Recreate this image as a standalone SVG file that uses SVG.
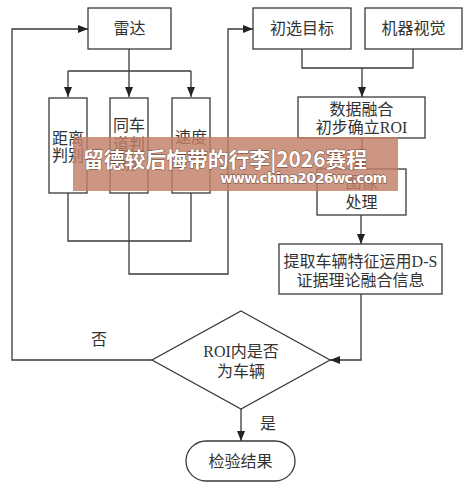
<svg xmlns="http://www.w3.org/2000/svg" width="470" height="488" viewBox="0 0 470 488">
<style>
.box{fill:#fff;stroke:#3a3a3a;stroke-width:1.3}
.ln{fill:none;stroke:#3a3a3a;stroke-width:1.3}
.t{font-family:"Liberation Serif","Noto Sans CJK SC",serif;font-size:16px;fill:#333;text-anchor:middle}
.wm{font-family:"Noto Sans CJK SC","Liberation Sans",sans-serif;font-weight:bold;fill:#fff;stroke:#6b3f30;stroke-width:0.8;paint-order:stroke}
</style>
<defs>
<marker id="ah" markerUnits="userSpaceOnUse" markerWidth="10" markerHeight="10" viewBox="0 0 10 10" refX="10" refY="5" orient="auto">
<path d="M0,1 L10,5 L0,9 Z" fill="#222"/>
</marker>
</defs>
<g id="connectors">
<path class="ln" d="M129,49 V97" marker-end="url(#ah)"/>
<path class="ln" d="M68,71 H191"/>
<path class="ln" d="M68,71 V97" marker-end="url(#ah)"/>
<path class="ln" d="M191,71 V97" marker-end="url(#ah)"/>
<path class="ln" d="M302,49 V68 H413 V49"/>
<path class="ln" d="M362,68 V97" marker-end="url(#ah)"/>
<path class="ln" d="M362,138 V169" marker-end="url(#ah)"/>
<path class="ln" d="M361,215 V244" marker-end="url(#ah)"/>
<path class="ln" d="M361,294 V360 H330" marker-end="url(#ah)"/>
<path class="ln" d="M152,360 H12 V29 H88" marker-end="url(#ah)"/>
<path class="ln" d="M68,193 V241 H191 V193"/>
<path class="ln" d="M129,193 V274 H228 V29 H253" marker-end="url(#ah)"/>
<path class="ln" d="M241,409 V441" marker-end="url(#ah)"/>
<text class="t" x="99" y="345">否</text>
<text class="t" x="268" y="429">是</text>
</g>
<g id="radar"><rect class="box" x="88" y="8" width="83" height="41"/><text class="t" x="129.5" y="34">雷达</text></g>
<g id="initial"><rect class="box" x="253" y="8" width="98" height="41"/><text class="t" x="302" y="34">初选目标</text></g>
<g id="vision"><rect class="box" x="365" y="8" width="97" height="41"/><text class="t" x="413.5" y="34">机器视觉</text></g>
<g id="distance"><rect class="box" x="49" y="98" width="38" height="95"/><text class="t" x="68" y="144">距离</text><text class="t" x="68" y="161">判别</text></g>
<g id="lane"><rect class="box" x="110" y="98" width="38" height="95"/><text class="t" x="129" y="131">同车</text><text class="t" x="129" y="150">道判</text><text class="t" x="129" y="169">别</text></g>
<g id="speed"><rect class="box" x="172" y="98" width="38" height="95"/><text class="t" x="191" y="143">速度</text></g>
<g id="fusion"><rect class="box" x="298" y="97" width="127" height="41"/><text class="t" x="361.5" y="115">数据融合</text><text class="t" x="361.5" y="133">初步确立ROI</text></g>
<g id="image"><rect class="box" x="317" y="169" width="89" height="46"/><text class="t" x="361.5" y="188">图像</text><text class="t" x="361.5" y="208">处理</text></g>
<g id="extract"><rect class="box" x="279" y="244" width="163" height="50"/><text class="t" x="360.5" y="267">提取车辆特征运用D-S</text><text class="t" x="360.5" y="286">证据理论融合信息</text></g>
<g id="decision"><polygon class="box" points="241,311 330,360 241,409 152,360"/><text class="t" x="241" y="357">ROI内是否</text><text class="t" x="241" y="377">为车辆</text></g>
<g id="result"><rect class="box" x="186" y="441" width="109" height="40" rx="20" ry="20"/><text class="t" x="240.5" y="467">检验结果</text></g>
<g id="watermark">
<rect x="73" y="137" width="325" height="54" fill="#c27f66" opacity="0.82"/>
<text class="wm" x="83" y="167" font-size="21" textLength="284" lengthAdjust="spacingAndGlyphs">留德较后悔带的行李|2026赛程</text>
<text class="wm" x="220" y="183" font-size="14" textLength="167" lengthAdjust="spacing" style="font-family:'DejaVu Sans',sans-serif">www.china2026wc.com</text>
</g>
</svg>
